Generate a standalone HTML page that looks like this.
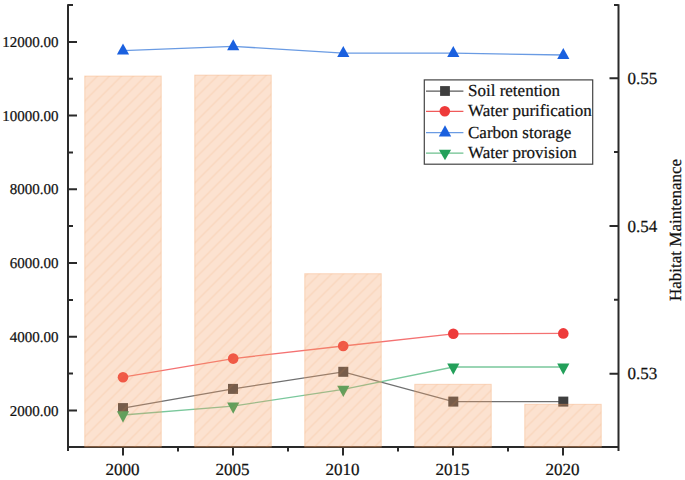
<!DOCTYPE html>
<html><head><meta charset="utf-8"><style>
html,body{margin:0;padding:0;background:#fff;width:685px;height:480px;overflow:hidden}
svg{display:block}
text{font-family:"Liberation Serif",serif;fill:#111;stroke:#111;stroke-width:0.22px;text-rendering:geometricPrecision}
</style></head><body>
<svg width="685" height="480" viewBox="0 0 685 480">
<defs>
<pattern id="hatch" patternUnits="userSpaceOnUse" width="12" height="12" patternTransform="translate(5.5,0)">
<path d="M-3,3 L3,-3 M0,12 L12,0 M9,15 L15,9" stroke="rgb(236,140,70)" stroke-width="1.3" stroke-opacity="0.14"/>
</pattern>
</defs>

<!-- series lines (drawn under bars) -->
<g fill="none" stroke-width="1.3">
<polyline stroke="#707070" points="123,408.1 233,388.9 343.3,371.8 453.3,401.6 563.3,401.6"/>
<polyline stroke="#f47272" points="123,377.2 233.2,358.6 343.2,346 453.3,333.8 563.3,333.4"/>
<polyline stroke="#6a9be3" points="123,50.7 233.2,46.3 343.3,53.2 453.3,53.1 563.3,55"/>
<polyline stroke="#7ac89c" points="123,415 233,406.1 343.3,389.4 453.3,367 563.3,367"/>
</g>
<!-- markers -->
<g fill="#3f3f3f">
<rect x="118" y="403.1" width="10" height="10"/>
<rect x="228" y="383.9" width="10" height="10"/>
<rect x="338.3" y="366.8" width="10" height="10"/>
<rect x="448.3" y="396.6" width="10" height="10"/>
<rect x="558.3" y="396.6" width="10" height="10"/>
</g>
<g fill="#ee3a3a">
<circle cx="123" cy="377.2" r="5.3"/>
<circle cx="233.2" cy="358.6" r="5.3"/>
<circle cx="343.2" cy="346" r="5.3"/>
<circle cx="453.3" cy="333.8" r="5.3"/>
<circle cx="563.3" cy="333.4" r="5.3"/>
</g>
<g fill="#1a60df" id="up">
<path d="M123,43.6 l6.1,11 h-12.2 z"/>
<path d="M233.2,39.2 l6.1,11 h-12.2 z"/>
<path d="M343.3,46.1 l6.1,11 h-12.2 z"/>
<path d="M453.3,46 l6.1,11 h-12.2 z"/>
<path d="M563.3,47.9 l6.1,11 h-12.2 z"/>
</g>
<g fill="#23a05a">
<path d="M123,422.7 l6.1,-11.4 h-12.2 z"/>
<path d="M233.2,413.8 l6.1,-11.4 h-12.2 z"/>
<path d="M343.3,397.1 l6.1,-11.4 h-12.2 z"/>
<path d="M453.3,374.8 l6.1,-11.4 h-12.2 z"/>
<path d="M563.3,374.8 l6.1,-11.4 h-12.2 z"/>
</g>

<!-- axes -->
<g stroke="#2a2a2a" stroke-width="2" fill="none">
<path d="M68,4.2 V451 M618.5,4.2 V451 M67,447 H619.5"/>
<!-- left ticks -->
<path d="M68,5.1 H73 M68,42 H77 M68,78.8 H73 M68,115.5 H77 M68,152.4 H73 M68,189.3 H77 M68,226.1 H73 M68,263 H77 M68,299.9 H73 M68,336.7 H77 M68,373.6 H73 M68,410.5 H77"/>
<!-- right ticks -->
<path d="M618.5,5.1 H614 M618.5,78.3 H609.5 M618.5,152.1 H614 M618.5,226 H609.5 M618.5,299.8 H614 M618.5,373.7 H609.5"/>
<!-- bottom ticks -->
<path d="M123,447 V455.5 M233,447 V455.5 M343,447 V455.5 M453,447 V455.5 M563,447 V455.5 M178,447 V451.5 M288,447 V451.5 M398,447 V451.5 M508,447 V451.5"/>
</g>

<!-- bars (translucent, drawn on top) -->
<g fill="rgb(245,160,100)" fill-opacity="0.3" stroke="rgb(245,160,100)" stroke-opacity="0.35" stroke-width="1">
<rect x="84.75" y="76.00" width="76.5" height="371.00"/>
<rect x="194.75" y="75.10" width="76.5" height="371.90"/>
<rect x="304.75" y="273.70" width="76.5" height="173.30"/>
<rect x="414.75" y="384.30" width="76.5" height="62.70"/>
<rect x="524.75" y="404.30" width="76.5" height="42.70"/>
</g>
<g fill="url(#hatch)">
<rect x="84.75" y="76.00" width="76.5" height="371.00"/>
<rect x="194.75" y="75.10" width="76.5" height="371.90"/>
<rect x="304.75" y="273.70" width="76.5" height="173.30"/>
<rect x="414.75" y="384.30" width="76.5" height="62.70"/>
<rect x="524.75" y="404.30" width="76.5" height="42.70"/>
</g>

<!-- left labels -->
<g font-size="15" text-anchor="end">
<text x="58.5" y="47.2">12000.00</text>
<text x="58.5" y="120.6">10000.00</text>
<text x="58.5" y="194.4">8000.00</text>
<text x="58.5" y="268.2">6000.00</text>
<text x="58.5" y="341.9">4000.00</text>
<text x="58.5" y="415.7">2000.00</text>
</g>
<!-- right labels -->
<g font-size="17">
<text x="627.5" y="83.5">0.55</text>
<text x="627.5" y="231.5">0.54</text>
<text x="627.5" y="379">0.53</text>
</g>
<!-- bottom labels -->
<g font-size="17" text-anchor="middle">
<text x="122.5" y="475">2000</text>
<text x="232.5" y="475">2005</text>
<text x="342.5" y="475">2010</text>
<text x="452.5" y="475">2015</text>
<text x="562.5" y="475">2020</text>
</g>
<text font-size="17" transform="translate(680.5,301) rotate(-90)">Habitat Maintenance</text>

<!-- legend -->
<rect x="424.3" y="79.9" width="168.4" height="84.3" fill="#fff" stroke="#444" stroke-width="1.2"/>
<g stroke-width="1.1">
<line x1="426" y1="91.1" x2="463.4" y2="91.1" stroke="#5a5a5a"/>
<line x1="426" y1="111.4" x2="463.4" y2="111.4" stroke="#f05a5a"/>
<line x1="426" y1="132.6" x2="463.4" y2="132.6" stroke="#6a9be3"/>
<line x1="426" y1="153.1" x2="463.4" y2="153.1" stroke="#6cc08e"/>
</g>
<rect x="440.1" y="86.1" width="9.8" height="9.8" fill="#3f3f3f"/>
<circle cx="444.8" cy="111.3" r="5.3" fill="#ee3a3a"/>
<path d="M445,125.3 l6.2,11.2 h-12.4 z" fill="#1a60df"/>
<path d="M445,160.3 l6.1,-10.6 h-12.2 z" fill="#23a05a"/>
<g font-size="17">
<text x="468" y="96">Soil retention</text>
<text x="468" y="116">Water purification</text>
<text x="468" y="137.5">Carbon storage</text>
<text x="468" y="158">Water provision</text>
</g>
</svg>
</body></html>
